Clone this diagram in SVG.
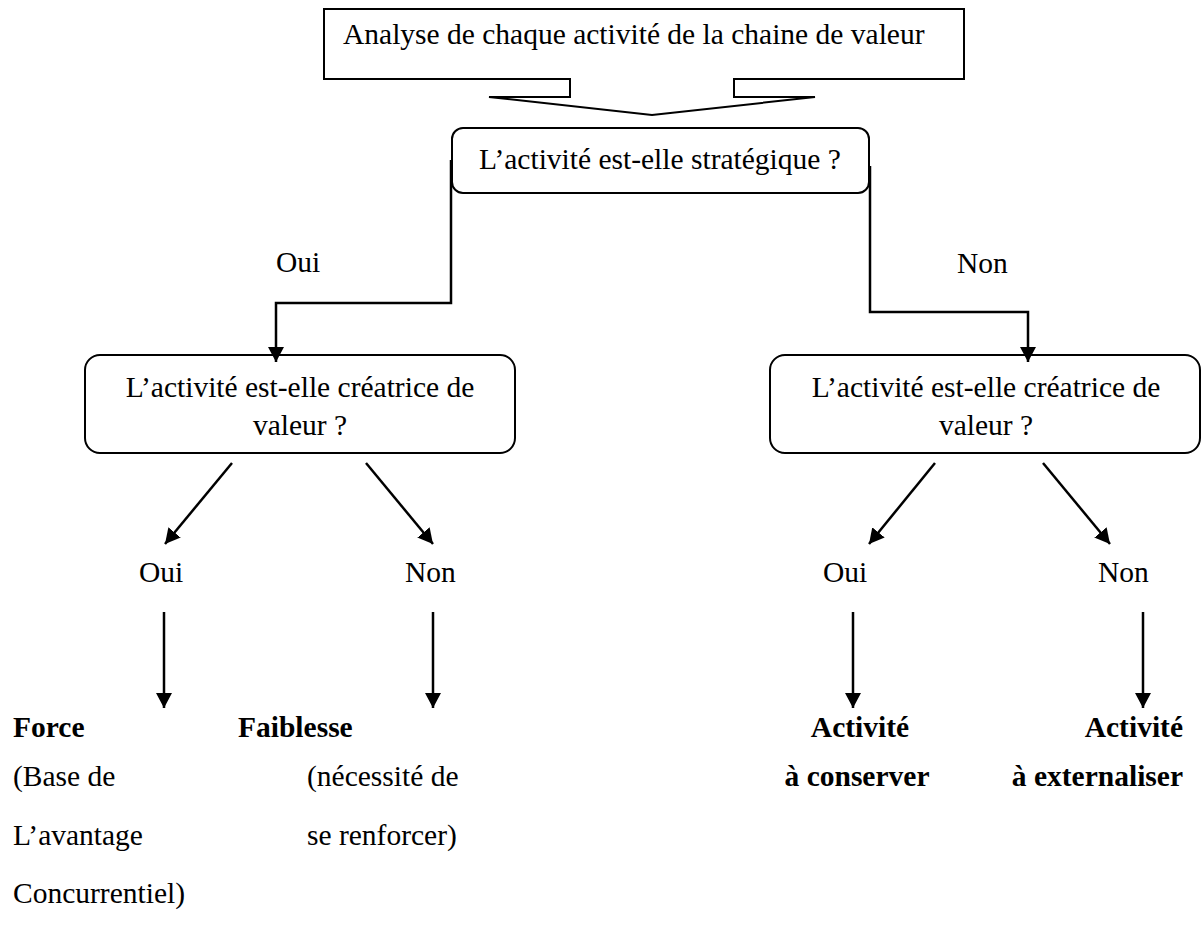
<svg xmlns="http://www.w3.org/2000/svg" width="1204" height="943" viewBox="0 0 1204 943">
  <style>
    text { font-family: "Liberation Serif", "Times New Roman", serif; font-size: 29.5px; fill: #000; }
    .b { font-weight: bold; }
    .mid { text-anchor: middle; }
    .box { fill: #fff; stroke: #000; stroke-width: 2; }
    .con { fill: none; stroke: #000; stroke-width: 2.5; }
  </style>
  <defs>
    <marker id="ah" markerUnits="userSpaceOnUse" markerWidth="16" markerHeight="16" refX="15" refY="8" orient="auto">
      <path d="M0,0 L15,8 L0,16 Z" fill="#000"/>
    </marker>
  </defs>
  <rect width="1204" height="943" fill="#fff"/>

  <g id="analyse">
    <path class="box" d="M324,9 H964 V79 H734 V97 H815 L652,115 L489,97 H570 V79 H324 Z"/>
    <text x="343" y="44">Analyse de chaque activité de la chaine de valeur</text>
  </g>

  <g id="strategique">
    <rect class="box" x="452" y="128" width="417" height="65" rx="11"/>
    <text class="mid" x="660" y="169">L’activité est-elle stratégique ?</text>
  </g>

  <g id="creatrice-gauche">
    <rect class="box" x="85" y="355" width="430" height="98" rx="15"/>
    <text class="mid" x="300" y="397">L’activité est-elle créatrice de</text>
    <text class="mid" x="300" y="435">valeur ?</text>
  </g>

  <g id="creatrice-droite">
    <rect class="box" x="770" y="355" width="430" height="98" rx="15"/>
    <text class="mid" x="986" y="397">L’activité est-elle créatrice de</text>
    <text class="mid" x="986" y="435">valeur ?</text>
  </g>

  <g id="connectors">
    <path class="con" d="M451,160 V303 H276 V362" marker-end="url(#ah)"/>
    <path class="con" d="M870,166 V312 H1028 V362" marker-end="url(#ah)"/>
    <line class="con" x1="232" y1="463" x2="165" y2="544" marker-end="url(#ah)"/>
    <line class="con" x1="366" y1="463" x2="433" y2="544" marker-end="url(#ah)"/>
    <line class="con" x1="935" y1="463" x2="869" y2="544" marker-end="url(#ah)"/>
    <line class="con" x1="1043" y1="463" x2="1110" y2="544" marker-end="url(#ah)"/>
    <line class="con" x1="164" y1="612" x2="164" y2="708" marker-end="url(#ah)"/>
    <line class="con" x1="433" y1="612" x2="433" y2="708" marker-end="url(#ah)"/>
    <line class="con" x1="853" y1="612" x2="853" y2="708" marker-end="url(#ah)"/>
    <line class="con" x1="1143" y1="612" x2="1143" y2="708" marker-end="url(#ah)"/>
  </g>

  <g id="labels">
    <text x="276" y="272">Oui</text>
    <text x="957" y="273">Non</text>
    <text x="139" y="582">Oui</text>
    <text x="405" y="582">Non</text>
    <text x="823" y="582">Oui</text>
    <text x="1098" y="582">Non</text>
  </g>

  <g id="force">
    <text class="b" x="13" y="737">Force</text>
    <text x="13" y="786">(Base de</text>
    <text x="13" y="845">L’avantage</text>
    <text x="13" y="903">Concurrentiel)</text>
  </g>

  <g id="faiblesse">
    <text class="b" x="238" y="737">Faiblesse</text>
    <text x="307" y="786">(nécessité de</text>
    <text x="307" y="845">se renforcer)</text>
  </g>

  <g id="conserver">
    <text class="b mid" x="860" y="737">Activité</text>
    <text class="b mid" x="857" y="786">à conserver</text>
  </g>

  <g id="externaliser">
    <text class="b" text-anchor="end" x="1183" y="737">Activité</text>
    <text class="b" text-anchor="end" x="1183" y="786">à externaliser</text>
  </g>
</svg>
